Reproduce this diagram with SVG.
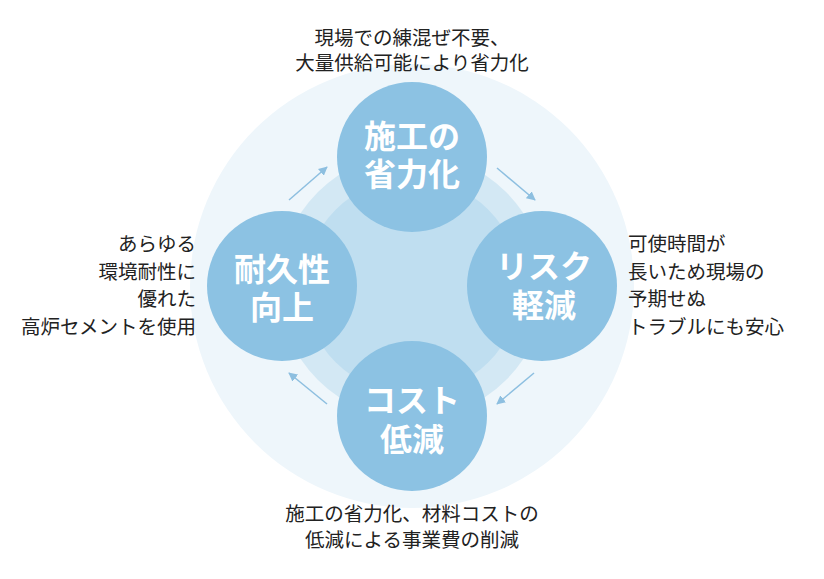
<svg xmlns="http://www.w3.org/2000/svg" width="824" height="579" viewBox="0 0 824 579">
<defs>
<style>
.lbl{font-family:"Liberation Sans","Noto Sans CJK JP",sans-serif;font-size:19.5px;fill:#222222;}
.nt{font-family:"Liberation Sans","Noto Sans CJK JP",sans-serif;font-size:32px;font-weight:bold;fill:#ffffff;text-anchor:middle;}
.node{fill:#8cc2e3;}
.arr{stroke:#8dbfe0;stroke-width:1.5;fill:none;marker-end:url(#ah);}
</style>
<marker id="ah" viewBox="0 0 10 10" refX="9" refY="5" markerWidth="9" markerHeight="9" markerUnits="userSpaceOnUse" orient="auto">
<path d="M0,0 L10,5 L0,10 z" fill="#8dbfe0"/>
</marker>
</defs>
<rect width="824" height="579" fill="#ffffff"/>
<g id="background">
<circle cx="412" cy="286" r="222" fill="#eef6fb"/>
<circle cx="412" cy="286" r="133" fill="#d3e8f4"/>
<circle cx="412" cy="286" r="108" fill="#bfdef0"/>
</g>
<g id="connectors">
<line class="arr" x1="289" y1="200" x2="327" y2="167"/>
<line class="arr" x1="497" y1="168" x2="535" y2="200"/>
<line class="arr" x1="534" y1="373" x2="497" y2="404"/>
<line class="arr" x1="327" y1="404" x2="289" y2="373"/>
</g>
<g id="node-top">
<circle class="node" cx="412" cy="157" r="75"/>
<text class="nt" x="412" y="148">施工の</text>
<text class="nt" x="412" y="186">省力化</text>
</g>
<g id="node-right">
<circle class="node" cx="542" cy="286" r="75"/>
<text class="nt" x="544" y="278">リスク</text>
<text class="nt" x="544" y="317">軽減</text>
</g>
<g id="node-bottom">
<circle class="node" cx="412" cy="416" r="75"/>
<text class="nt" x="412" y="412">コスト</text>
<text class="nt" x="412" y="451">低減</text>
</g>
<g id="node-left">
<circle class="node" cx="282" cy="286" r="75"/>
<text class="nt" x="282" y="281">耐久性</text>
<text class="nt" x="282" y="319">向上</text>
</g>
<g id="label-top">
<text class="lbl" x="412" y="45" text-anchor="middle">現場での練混ぜ不要、</text>
<text class="lbl" x="412" y="70" text-anchor="middle">大量供給可能により省力化</text>
</g>
<g id="label-left">
<text class="lbl" x="196" y="251" text-anchor="end">あらゆる</text>
<text class="lbl" x="196" y="279" text-anchor="end">環境耐性に</text>
<text class="lbl" x="196" y="306" text-anchor="end">優れた</text>
<text class="lbl" x="196" y="334" text-anchor="end">高炉セメントを使用</text>
</g>
<g id="label-right">
<text class="lbl" x="628" y="251">可使時間が</text>
<text class="lbl" x="628" y="279">長いため現場の</text>
<text class="lbl" x="628" y="306">予期せぬ</text>
<text class="lbl" x="628" y="334">トラブルにも安心</text>
</g>
<g id="label-bottom">
<text class="lbl" x="412" y="521" text-anchor="middle">施工の省力化、材料コストの</text>
<text class="lbl" x="412" y="547" text-anchor="middle">低減による事業費の削減</text>
</g>
</svg>
